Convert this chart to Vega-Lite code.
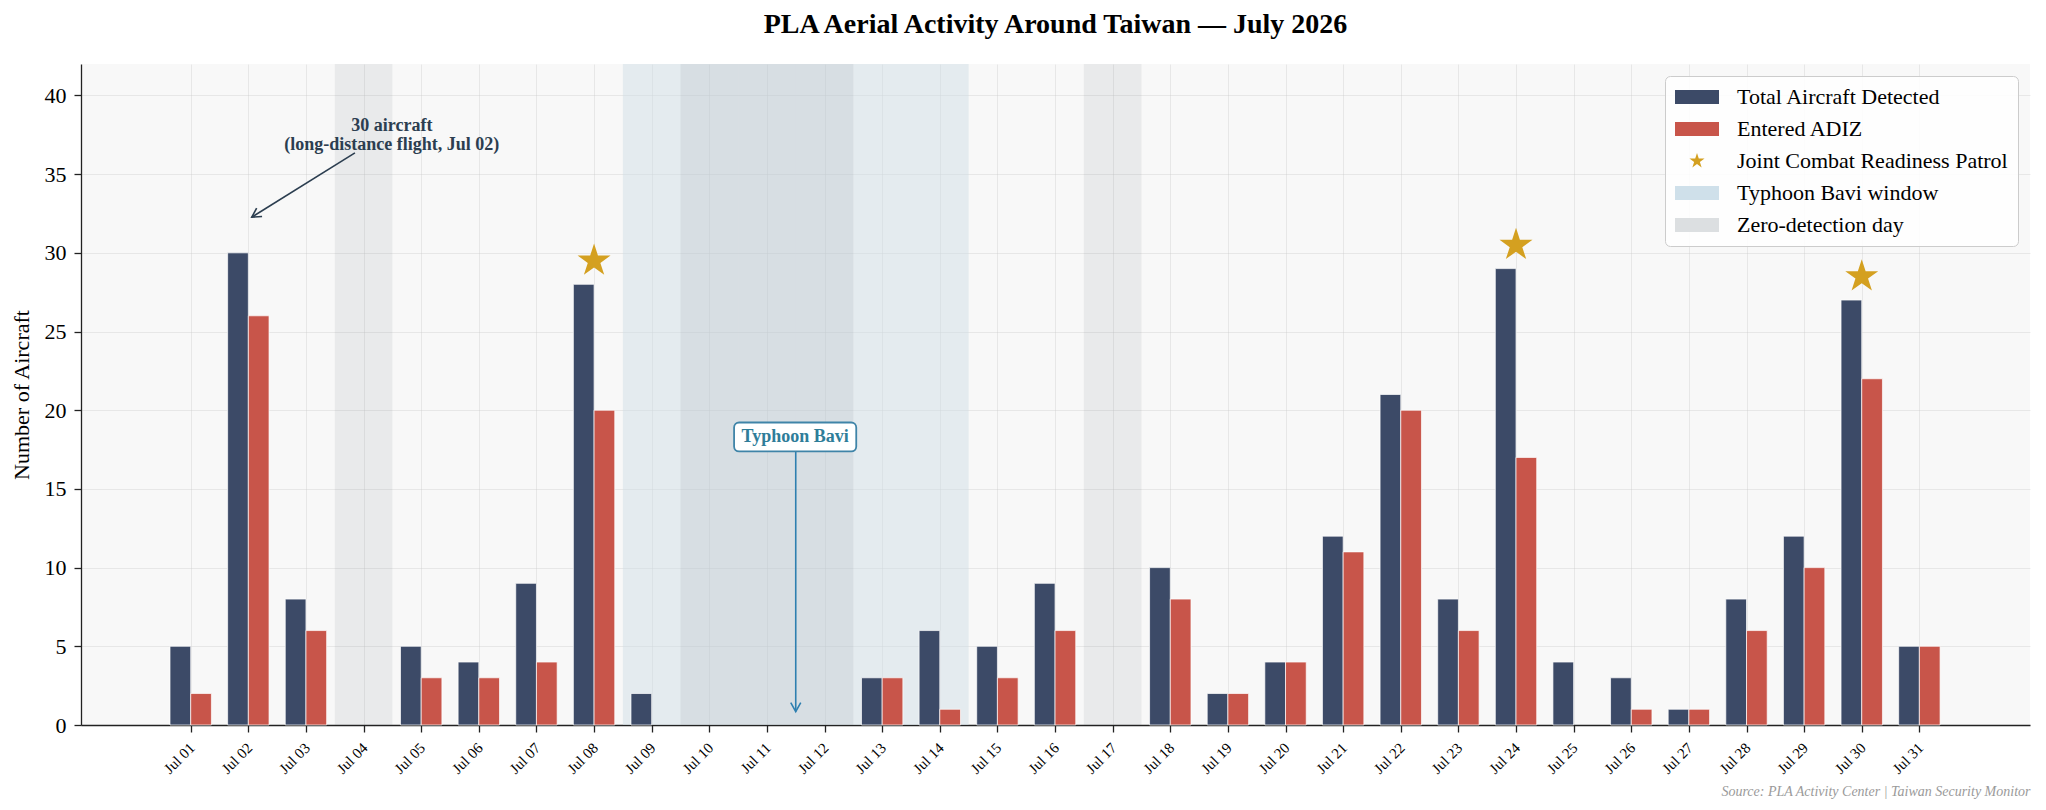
{
  "$schema": "https://vega.github.io/schema/vega-lite/v6.json",
  "background": "white",
  "autosize": {"type": "none"},
  "padding": {"left": 81, "top": 64, "right": 16, "bottom": 85},
  "width": 1949,
  "height": 661,
  "title": {
    "text": "PLA Aerial Activity Around Taiwan — July 2026",
    "font": "Liberation Serif",
    "fontSize": 28,
    "fontWeight": "bold",
    "color": "#000000",
    "anchor": "middle",
    "offset": 25
  },
  "datasets": {
    "daily": [
      {"day": 1, "total": 5, "adiz": 2, "patrol": false},
      {"day": 2, "total": 30, "adiz": 26, "patrol": false},
      {"day": 3, "total": 8, "adiz": 6, "patrol": false},
      {"day": 4, "total": 0, "adiz": 0, "patrol": false},
      {"day": 5, "total": 5, "adiz": 3, "patrol": false},
      {"day": 6, "total": 4, "adiz": 3, "patrol": false},
      {"day": 7, "total": 9, "adiz": 4, "patrol": false},
      {"day": 8, "total": 28, "adiz": 20, "patrol": true},
      {"day": 9, "total": 2, "adiz": 0, "patrol": false},
      {"day": 10, "total": 0, "adiz": 0, "patrol": false},
      {"day": 11, "total": 0, "adiz": 0, "patrol": false},
      {"day": 12, "total": 0, "adiz": 0, "patrol": false},
      {"day": 13, "total": 3, "adiz": 3, "patrol": false},
      {"day": 14, "total": 6, "adiz": 1, "patrol": false},
      {"day": 15, "total": 5, "adiz": 3, "patrol": false},
      {"day": 16, "total": 9, "adiz": 6, "patrol": false},
      {"day": 17, "total": 0, "adiz": 0, "patrol": false},
      {"day": 18, "total": 10, "adiz": 8, "patrol": false},
      {"day": 19, "total": 2, "adiz": 2, "patrol": false},
      {"day": 20, "total": 4, "adiz": 4, "patrol": false},
      {"day": 21, "total": 12, "adiz": 11, "patrol": false},
      {"day": 22, "total": 21, "adiz": 20, "patrol": false},
      {"day": 23, "total": 8, "adiz": 6, "patrol": false},
      {"day": 24, "total": 29, "adiz": 17, "patrol": true},
      {"day": 25, "total": 4, "adiz": 0, "patrol": false},
      {"day": 26, "total": 3, "adiz": 1, "patrol": false},
      {"day": 27, "total": 1, "adiz": 1, "patrol": false},
      {"day": 28, "total": 8, "adiz": 6, "patrol": false},
      {"day": 29, "total": 12, "adiz": 10, "patrol": false},
      {"day": 30, "total": 27, "adiz": 22, "patrol": true},
      {"day": 31, "total": 5, "adiz": 5, "patrol": false}
    ],
    "typhoon": [
      {"start": 8.5, "end": 14.5}
    ],
    "zero": [
      {"start": 3.5, "end": 4.5},
      {"start": 9.5, "end": 10.5},
      {"start": 10.5, "end": 11.5},
      {"start": 11.5, "end": 12.5},
      {"start": 16.5, "end": 17.5}
    ]
  },
  "config": {
    "view": {"fill": "#f8f8f8", "stroke": null},
    "axis": {
      "labelFont": "Liberation Serif",
      "titleFont": "Liberation Serif",
      "labelColor": "#000000",
      "titleColor": "#000000",
      "titleFontWeight": "normal",
      "domainColor": "#222222",
      "domainWidth": 1.3,
      "tickColor": "#222222",
      "tickWidth": 1.3,
      "tickSize": 7,
      "gridColor": "#c8c8c8",
      "gridOpacity": 0.35,
      "gridWidth": 1,
      "zindex": 1
    }
  },
  "layer": [
    {
      "data": {"name": "typhoon"},
      "mark": {"type": "rect", "fill": "#d0dee6", "opacity": 0.5},
      "encoding": {
        "x": {
          "field": "start",
          "type": "quantitative",
          "scale": {"domain": [-0.904, 32.92], "nice": false, "zero": false, "padding": 0},
          "axis": {
            "values": [1, 2, 3, 4, 5, 6, 7, 8, 9, 10, 11, 12, 13, 14, 15, 16, 17, 18, 19, 20, 21, 22, 23, 24, 25, 26, 27, 28, 29, 30, 31],
            "labelExpr": "'Jul ' + (datum.value < 10 ? '0' : '') + datum.value",
            "labelAngle": -45,
            "labelAlign": "right",
            "labelBaseline": "top",
            "labelFontSize": 15,
            "labelPadding": 8,
            "labelOffset": -4,
            "labelOverlap": false,
            "labelFlush": false,
            "grid": true,
            "title": "Source: PLA Activity Center | Taiwan Security Monitor",
            "titleFontSize": 14,
            "titleFontStyle": "italic",
            "titleColor": "#9a9a9a",
            "titleAnchor": "end",
            "titlePadding": 8
          }
        },
        "x2": {"field": "end"},
        "y": {
          "datum": 0,
          "type": "quantitative",
          "scale": {"domain": [0, 42], "nice": false},
          "axis": {
            "values": [0, 5, 10, 15, 20, 25, 30, 35, 40],
            "labelFontSize": 22,
            "labelPadding": 8,
            "grid": true,
            "title": "Number of Aircraft",
            "titleFontSize": 22,
            "titlePadding": 11
          }
        },
        "y2": {"datum": 42}
      }
    },
    {
      "data": {"name": "zero"},
      "mark": {"type": "rect", "fill": "#858c90", "opacity": 0.13},
      "encoding": {
        "x": {"field": "start", "type": "quantitative", "scale": {"domain": [-0.904, 32.92], "nice": false, "zero": false, "padding": 0}},
        "x2": {"field": "end"},
        "y": {"datum": 0, "type": "quantitative", "scale": {"domain": [0, 42], "nice": false}},
        "y2": {"datum": 42}
      }
    },
    {
      "data": {"name": "daily"},
      "transform": [{"filter": "datum.total > 0"}],
      "mark": {"type": "bar", "orient": "vertical", "width": 20.7, "xOffset": -10.35, "stroke": "white", "strokeWidth": 0.7},
      "encoding": {
        "x": {"field": "day", "type": "quantitative", "scale": {"domain": [-0.904, 32.92], "nice": false, "zero": false, "padding": 0}},
        "y": {"field": "total", "type": "quantitative", "stack": null, "scale": {"domain": [0, 42], "nice": false}},
        "color": {
          "datum": "Total Aircraft Detected",
          "type": "nominal",
          "scale": {
            "domain": ["Total Aircraft Detected", "Entered ADIZ", "Joint Combat Readiness Patrol", "Typhoon Bavi window", "Zero-detection day"],
            "range": ["#3c4a67", "#c8554a", "#d4a020", "#cfe0ea", "#dcdfe1"]
          },
          "legend": {
            "title": null,
            "orient": "top-right",
            "offset": 12,
            "padding": 10,
            "fillColor": "rgba(255,255,255,0.85)",
            "strokeColor": "#cccccc",
            "cornerRadius": 5,
            "labelFont": "Liberation Serif",
            "labelFontSize": 22,
            "labelColor": "#000000",
            "labelOffset": 40,
            "labelLimit": 400,
            "rowPadding": 10,
            "symbolSize": 484,
            "symbolStrokeWidth": 0,
            "symbolOpacity": 1,
            "symbolType": {"expr": "datum.value === 'Joint Combat Readiness Patrol' ? 'M1,-0.72L1.1616,-0.2225L1.6848,-0.2225L1.2616,0.085L1.4232,0.5825L1,0.275L0.5768,0.5825L0.7384,0.085L0.3152,-0.2225L0.8384,-0.2225Z' : 'M-1,-0.64H3V0.64H-1Z'"}
          }
        }
      }
    },
    {
      "data": {"name": "daily"},
      "transform": [{"filter": "datum.adiz > 0"}],
      "mark": {"type": "bar", "orient": "vertical", "width": 20.7, "xOffset": 10.35, "stroke": "white", "strokeWidth": 0.7},
      "encoding": {
        "x": {"field": "day", "type": "quantitative", "scale": {"domain": [-0.904, 32.92], "nice": false, "zero": false, "padding": 0}},
        "y": {"field": "adiz", "type": "quantitative", "stack": null, "scale": {"domain": [0, 42], "nice": false}},
        "color": {"datum": "Entered ADIZ", "type": "nominal"}
      }
    },
    {
      "data": {"name": "daily"},
      "transform": [{"filter": "datum.patrol"}],
      "mark": {
        "type": "point",
        "shape": "M0,-1L0.2245,-0.309L0.9511,-0.309L0.3633,0.118L0.5878,0.809L0,0.382L-0.5878,0.809L-0.3633,0.118L-0.9511,-0.309L-0.2245,-0.309Z",
        "filled": true,
        "size": 1200,
        "opacity": 1,
        "strokeWidth": 0,
        "yOffset": -23.5
      },
      "encoding": {
        "x": {"field": "day", "type": "quantitative", "scale": {"domain": [-0.904, 32.92], "nice": false, "zero": false, "padding": 0}},
        "y": {"field": "total", "type": "quantitative", "scale": {"domain": [0, 42], "nice": false}},
        "color": {"datum": "Joint Combat Readiness Patrol", "type": "nominal"}
      }
    },
    {
      "data": {"values": [{}]},
      "mark": {"type": "rule", "color": "#2c3e50", "strokeWidth": 1.6},
      "encoding": {
        "x": {"datum": 3.85, "type": "quantitative"},
        "y": {"datum": 36.35, "type": "quantitative"},
        "x2": {"datum": 2.06},
        "y2": {"datum": 32.27}
      }
    },
    {
      "data": {"values": [{}]},
      "mark": {"type": "point", "shape": "M-0.5,0.9L0,0L0.5,0.9", "filled": false, "stroke": "#2c3e50", "strokeWidth": 1.6, "opacity": 1, "size": 400, "angle": 237.3},
      "encoding": {
        "x": {"datum": 2.06, "type": "quantitative"},
        "y": {"datum": 32.27, "type": "quantitative"}
      }
    },
    {
      "data": {"values": [{}]},
      "mark": {"type": "text", "font": "Liberation Serif", "fontSize": 18, "fontWeight": "bold", "color": "#2c3e50", "align": "center", "baseline": "middle", "lineHeight": 19},
      "encoding": {
        "x": {"datum": 4.49, "type": "quantitative"},
        "y": {"datum": 38.03, "type": "quantitative"},
        "text": {"value": ["30 aircraft", "(long-distance flight, Jul 02)"]}
      }
    },
    {
      "data": {"values": [{}]},
      "mark": {"type": "rule", "color": "#2e7fb0", "strokeWidth": 1.6},
      "encoding": {
        "x": {"datum": 11.5, "type": "quantitative"},
        "y": {"datum": 17.38, "type": "quantitative"},
        "y2": {"datum": 0.85}
      }
    },
    {
      "data": {"values": [{}]},
      "mark": {"type": "point", "shape": "M-0.5,0.9L0,0L0.5,0.9", "filled": false, "stroke": "#2e7fb0", "strokeWidth": 1.6, "opacity": 1, "size": 400, "angle": 180},
      "encoding": {
        "x": {"datum": 11.5, "type": "quantitative"},
        "y": {"datum": 0.85, "type": "quantitative"}
      }
    },
    {
      "data": {"values": [{}]},
      "mark": {"type": "rect", "fill": "white", "stroke": "#3f84a8", "strokeWidth": 1.8, "cornerRadius": 5},
      "encoding": {
        "x": {"datum": 10.43, "type": "quantitative"},
        "x2": {"datum": 12.55},
        "y": {"datum": 17.38, "type": "quantitative"},
        "y2": {"datum": 19.22}
      }
    },
    {
      "data": {"values": [{}]},
      "mark": {"type": "text", "font": "Liberation Serif", "fontSize": 18, "fontWeight": "bold", "color": "#2e7d99", "align": "center", "baseline": "middle"},
      "encoding": {
        "x": {"datum": 11.49, "type": "quantitative"},
        "y": {"datum": 18.3, "type": "quantitative"},
        "text": {"value": "Typhoon Bavi"}
      }
    }
  ]
}
